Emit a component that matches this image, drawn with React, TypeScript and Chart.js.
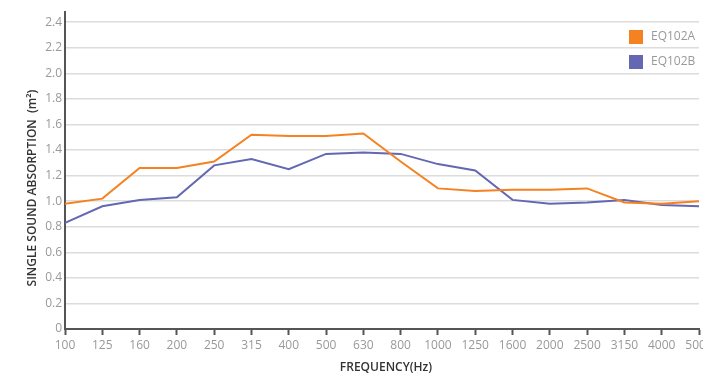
import React, { useEffect, useRef } from "react";
import { Chart, registerables } from "chart.js";

Chart.register(...registerables);

const categories = ["100", "125", "160", "200", "250", "315", "400", "500", "630", "800", "1000", "1250", "1600", "2000", "2500", "3150", "4000", "5000"];
const seriesA = [0.98, 1.02, 1.26, 1.26, 1.31, 1.52, 1.51, 1.51, 1.53, 1.31, 1.1, 1.08, 1.09, 1.09, 1.1, 0.99, 0.98, 1.0];
const seriesB = [0.83, 0.96, 1.01, 1.03, 1.28, 1.33, 1.25, 1.37, 1.38, 1.37, 1.29, 1.24, 1.01, 0.98, 0.99, 1.01, 0.97, 0.96];
const seriesNames = ["EQ102A", "EQ102B"];
const seriesColors = ["#F58220", "#6467B2"];
const yTickValues = [0, 0.2, 0.4, 0.6, 0.8, 1.0, 1.2, 1.4, 1.6, 1.8, 2.0, 2.2, 2.4];
const yTitle = "SINGLE SOUND ABSORPTION  (m²)";
const xTitle = "FREQUENCY(Hz)";

const FONT = "'Open Sans', 'Noto Sans', sans-serif";

const overlayPlugin = {
  id: "overlay",
  afterDraw(chart: any) {
    const ctx = chart.ctx;
    ctx.save();
    ctx.font = `12px ${FONT}`;
    ctx.textBaseline = "middle";
    ctx.textAlign = "left";
    seriesNames.forEach((name, i) => {
      const y = 30 + i * 25;
      ctx.fillStyle = seriesColors[i];
      ctx.fillRect(629, y, 14, 14);
      ctx.fillStyle = "#999";
      ctx.fillText(name, 651, y + 7);
    });
    ctx.fillStyle = "#333";
    ctx.font = `600 12px ${FONT}`;
    ctx.textAlign = "center";
    ctx.fillText(xTitle, 386, 368);
    ctx.translate(33, 188);
    ctx.rotate(-Math.PI / 2);
    ctx.fillText(yTitle, 0, 0);
    ctx.restore();
  },
};

export default function App() {
  const ref = useRef<HTMLCanvasElement>(null);
  useEffect(() => {
    const chart = new Chart(ref.current!, {
      type: "line",
      data: {
        labels: categories,
        datasets: [seriesA, seriesB].map((d, i) => ({
          label: seriesNames[i],
          data: d,
          borderColor: seriesColors[i],
          backgroundColor: seriesColors[i],
          borderWidth: 2,
          pointRadius: 0,
          tension: 0,
          fill: false,
        })),
      },
      options: {
        animation: false,
        responsive: false,
        layout: { padding: { left: 0, top: 12, right: 21, bottom: 0 } },
        plugins: { legend: { display: false }, tooltip: { enabled: false } },
        scales: {
          x: {
            type: "category",
            offset: false,
            grid: {
              display: true,
              drawOnChartArea: false,
              drawTicks: true,
              tickLength: 6,
              tickColor: "#555",
              tickWidth: 2,
            },
            border: { display: true, color: "#555", width: 2 },
            ticks: {
              color: "#999",
              font: { family: FONT, size: 12 },
              padding: 3,
              maxRotation: 0,
              autoSkip: false,
            },
            afterFit: (axis: any) => {
              axis.height = 48;
            },
          },
          y: {
            min: 0,
            max: 2.48,
            ticks: {
              color: "#999",
              font: { family: FONT, size: 12 },
              padding: 3,
              autoSkip: false,
              callback: (v: any) => (Number(v) === 0 ? "0" : Number(v).toFixed(1)),
            },
            afterBuildTicks: (axis: any) => {
              axis.ticks = yTickValues.map((v) => ({ value: v }));
            },
            grid: { color: "#dcdcdc", lineWidth: 1.5, drawTicks: false },
            border: { display: true, color: "#555", width: 2 },
            afterFit: (axis: any) => {
              axis.width = 65;
            },
          },
        },
      },
      plugins: [overlayPlugin],
    });
    return () => chart.destroy();
  }, []);
  return (
    <div style={{ position: "fixed", left: 0, top: 0, width: 703, height: 377, overflow: "hidden", background: "#fff" }}>
      <canvas ref={ref} width={720} height={377} style={{ display: "block", width: 720, height: 377 }} />
    </div>
  );
}
